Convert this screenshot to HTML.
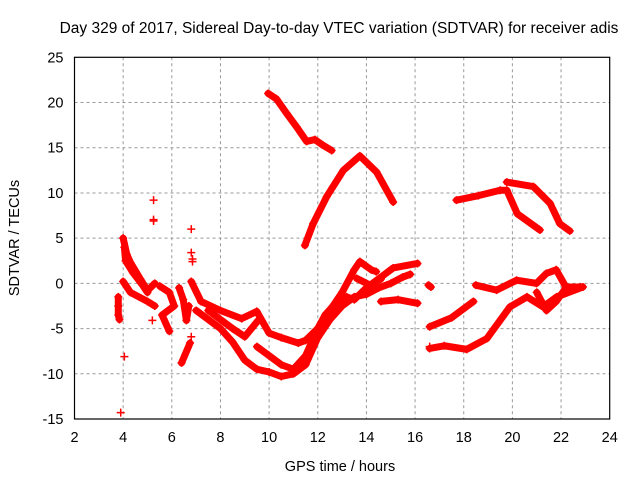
<!DOCTYPE html>
<html><head><meta charset="utf-8"><style>
body{margin:0;background:#fff}
svg{display:block;font-family:"Liberation Sans",sans-serif}
</style></head><body>
<svg id="c" width="640" height="480">
<text x="339" y="33" font-size="15.5" text-anchor="middle">Day 329 of 2017, Sidereal Day-to-day VTEC variation (SDTVAR) for receiver adis</text>
<text x="340" y="471" font-size="14.5" text-anchor="middle">GPS time / hours</text>
<text transform="translate(19,238) rotate(-90)" font-size="14.5" text-anchor="middle">SDTVAR / TECUs</text>
<g id="grid"></g><g id="ticks"></g><g id="marks"></g>
<rect x="74.5" y="57.3" width="535.2" height="361.7" fill="none" stroke="#000" stroke-width="1.2"/>
</svg>
<script>
const xTicks=[2,4,6,8,10,12,14,16,18,20,22,24];
const yTicks=[-15,-10,-5,0,5,10,15,20,25];
const seriesTopArc=[[9.96,21.0],[10.3,20.4],[10.72,18.8],[11.13,17.3],[11.54,15.7],[11.88,15.9],[12.2,15.3],[12.57,14.7]];
const seriesMidArc=[[11.47,4.2],[11.81,6.6],[12.37,9.6],[13.05,12.5],[13.73,14.1],[14.42,12.3],[15.1,9.0]];
const seriesEarlyA=[[4.0,5.0],[4.15,3.2],[4.3,2.3],[4.7,0.5],[5.0,-0.8],[5.3,0.0]];
const seriesEarlyA2=[[4.05,4.0],[4.1,2.5],[4.4,1.2],[4.8,-0.2],[5.0,-1.0]];
const seriesEarlyB=[[4.0,0.2],[4.3,-1.0],[5.0,-2.0],[5.3,-2.5]];
const seriesCluster=[[3.8,-1.5],[3.8,-2.5],[3.8,-3.5],[3.85,-4.0]];
const seriesClusterB=[[5.5,-0.3],[5.9,-1.0],[6.1,-2.5],[5.6,-3.5],[5.9,-5.3]];
const seriesClusterC=[[6.3,-0.5],[6.47,-1.8],[6.6,-4.1],[6.7,-2.5]];
const seriesDrop=[[6.4,-8.8],[6.75,-6.6]];
const seriesMain1=[[6.8,0.2],[7.2,-2.0],[8.0,-3.0],[8.87,-3.9],[9.49,-3.1],[10.0,-5.5],[10.5,-6.0],[11.2,-6.6],[11.5,-6.3],[12.0,-5.0],[12.5,-3.0],[13.0,-1.0],[13.5,1.5],[13.73,2.4],[14.2,1.5],[14.4,1.3]];
const seriesMain2=[[7.5,-3.0],[8.0,-4.0],[8.5,-5.0],[9.0,-5.9],[9.55,-4.1]];
const seriesMain3=[[7.0,-3.0],[8.0,-5.0],[8.5,-6.5],[9.0,-8.5],[9.5,-9.5],[10.0,-9.8],[10.5,-10.3],[11.0,-10.0],[11.5,-9.0],[12.0,-6.0],[12.5,-4.0],[13.0,-2.5],[13.5,-1.5],[14.0,-1.2],[14.5,-0.5],[15.0,0.0],[15.5,0.7],[15.8,1.0]];
const seriesMain4=[[9.5,-7.0],[10.0,-8.0],[10.5,-9.0],[11.0,-9.5],[11.5,-8.0],[12.0,-5.0],[12.3,-3.5],[12.8,-2.0],[13.19,-1.5],[13.5,-1.8],[14.0,-0.5],[14.6,0.5]];
const seriesMain5=[[13.6,0.55],[14.15,-0.2],[15.1,1.7],[16.1,2.2]];
const seriesMain6=[[14.6,-2.0],[15.3,-1.8],[16.1,-2.2]];
const seriesLateTop1=[[17.7,9.2],[18.6,9.7],[19.5,10.3],[19.77,10.3],[20.2,7.7],[21.13,5.9]];
const seriesLateTop2=[[19.77,11.2],[20.86,10.7],[21.55,8.85],[21.95,6.6],[22.36,5.8]];
const seriesLateLow=[[16.6,-7.2],[17.2,-6.9],[18.12,-7.3],[18.95,-6.1],[19.9,-2.6],[20.6,-1.5],[21.26,-2.6],[21.82,-1.5],[22.9,-0.4]];
const seriesLateMid=[[16.6,-4.8],[17.5,-3.8],[18.4,-2.0]];
const seriesLateZero=[[18.5,-0.2],[19.35,-0.75],[20.17,0.35],[20.99,0.0],[21.4,1.1],[21.8,1.5],[22.2,-0.4],[22.8,-0.4]];
const seriesLoop=[[21.0,-1.0],[21.4,-3.0],[21.8,-2.0],[22.2,-0.5]];
const seriesBlob=[[16.55,-0.2],[16.65,-0.4]];
const scatterPts=[[3.9,-14.3],[4.05,-8.1],[5.25,9.2],[5.25,6.9],[5.25,7.05],[5.2,-4.1],[6.8,6.0],[6.8,3.4],[6.85,2.7],[6.85,2.4],[6.8,-5.9],[16.6,-7.0]];
const allSeries=[seriesTopArc,seriesMidArc,seriesEarlyA,seriesEarlyA2,seriesEarlyB,seriesCluster,seriesClusterB,seriesClusterC,seriesDrop,seriesMain1,seriesMain2,seriesMain3,seriesMain4,seriesMain5,seriesMain6,seriesLateTop1,seriesLateTop2,seriesLateLow,seriesLateMid,seriesLateZero,seriesLoop,seriesBlob];

const NS="http://www.w3.org/2000/svg";
const L=74.5,R=609.7,T=57.3,B=419;
function X(h){return L+(h-2)/22*(R-L);}
function Y(v){return B-(v+15)/40*(B-T);}
const grid=document.getElementById('grid'),ticks=document.getElementById('ticks'),marks=document.getElementById('marks');
function mk(tag,attrs,parent){const e=document.createElementNS(NS,tag);for(const k in attrs)e.setAttribute(k,attrs[k]);parent.appendChild(e);return e;}
xTicks.forEach(t=>{
  const x=X(t);
  if(t>2&&t<24){const g=mk('line',{x1:x,y1:T,x2:x,y2:B,stroke:'#999','stroke-dasharray':'3,3'},grid);
  
  }
  const lb=mk('text',{x:x,y:B+23,'font-size':14.5,'text-anchor':'middle'},ticks);lb.textContent=t;
  
  
});
yTicks.forEach(t=>{
  const y=Y(t);
  if(t>-15&&t<25){const g=mk('line',{x1:L,y1:y,x2:R,y2:y,stroke:'#999','stroke-dasharray':'3,3'},grid);
  
  }
  const lb=mk('text',{x:L-11,y:y+5,'font-size':14.5,'text-anchor':'end'},ticks);lb.textContent=t;
  
  
});
function plus(h,v){
  const x=X(h),y=Y(v);
  const p=mk('path',{d:`M${x-4} ${y}H${x+4}M${x} ${y-4}V${y+4}`,stroke:'#f00','stroke-width':1.5,fill:'none'},marks);
  
  
}
allSeries.forEach(s=>{
  const pl=mk('polyline',{points:s.map(p=>X(p[0])+','+Y(p[1])).join(' '),stroke:'#f00','stroke-width':7,fill:'none','stroke-linejoin':'round','stroke-linecap':'round'},marks);
  
  
  s.forEach(p=>plus(p[0],p[1]));
});
scatterPts.forEach(p=>plus(p[0],p[1]));
</script>
</body></html>
